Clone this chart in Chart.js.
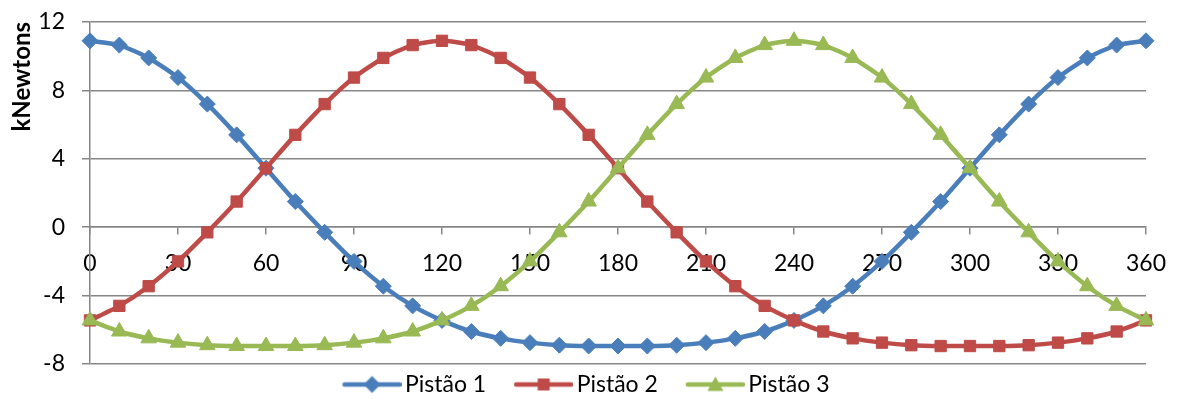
<!DOCTYPE html>
<html>
<head>
<meta charset="utf-8">
<script src="https://cdn.jsdelivr.net/npm/chart.js@4"></script>
<style>
html,body{margin:0;padding:0;background:#fff;}
#wrap{width:1182px;height:399px;}
</style>
</head>
<body>
<div id="wrap"><canvas id="c" width="1182" height="399"></canvas></div>
<script>
const angles = [0,10,20,30,40,50,60,70,80,90,100,110,120,130,140,150,160,170,180,190,200,210,220,230,240,250,260,270,280,290,300,310,320,330,340,350,360];
const pistao1 = [10.9,10.65,9.9,8.75,7.2,5.4,3.45,1.5,-0.3,-2.0,-3.45,-4.6,-5.45,-6.1,-6.5,-6.75,-6.9,-6.95,-6.95,-6.95,-6.9,-6.75,-6.5,-6.1,-5.45,-4.6,-3.45,-2.0,-0.3,1.5,3.45,5.4,7.2,8.75,9.9,10.65,10.9];
const pistao2 = [-5.45,-4.6,-3.45,-2.0,-0.3,1.5,3.45,5.4,7.2,8.75,9.9,10.65,10.9,10.65,9.9,8.75,7.2,5.4,3.45,1.5,-0.3,-2.0,-3.45,-4.6,-5.45,-6.1,-6.5,-6.75,-6.9,-6.95,-6.95,-6.95,-6.9,-6.75,-6.5,-6.1,-5.45];
const pistao3 = [-5.45,-6.1,-6.5,-6.75,-6.9,-6.95,-6.95,-6.95,-6.9,-6.75,-6.5,-6.1,-5.45,-4.6,-3.45,-2.0,-0.3,1.5,3.45,5.4,7.2,8.75,9.9,10.65,10.9,10.65,9.9,8.75,7.2,5.4,3.45,1.5,-0.3,-2.0,-3.45,-4.6,-5.45];
const seriesNames = ['Pistão 1','Pistão 2','Pistão 3'];
const yTicks = [-8,-4,0,4,8,12];
const xTicks = [0,30,60,90,120,150,180,210,240,270,300,330,360];

const colors = ['#4A7EBB','#BE4B48','#98B954'];
const styles = ['rectRot','rect','triangle'];
const radii = [8,8,9];
const FONT = 'Lato, "Liberation Sans", sans-serif';
const FS = 23;

function makeIcon(color, style){
  const c = document.createElement('canvas');
  c.width = 86; c.height = 20;
  const g = c.getContext('2d');
  g.strokeStyle = color; g.lineWidth = 4.5; g.lineCap = 'round';
  g.beginPath(); g.moveTo(29,10); g.lineTo(84,10); g.stroke();
  g.fillStyle = color;
  g.beginPath();
  const cx = 56.5, cy = 10;
  if (style === 'rectRot'){ g.moveTo(cx,cy-8.5); g.lineTo(cx+8.5,cy); g.lineTo(cx,cy+8.5); g.lineTo(cx-8.5,cy); }
  else if (style === 'rect'){ g.rect(cx-6,cy-6,12,12); }
  else { g.moveTo(cx,cy-8); g.lineTo(cx+8,cy+6.5); g.lineTo(cx-8,cy+6.5); }
  g.closePath(); g.fill();
  return c;
}
const icons = colors.map((c,i)=>makeIcon(c, styles[i]));

const seriesVals = [pistao1, pistao2, pistao3];
const datasets = seriesVals.map((vals, i) => ({
  label: seriesNames[i],
  data: angles.map((a, k) => ({x: a, y: vals[k]})),
  borderColor: colors[i],
  backgroundColor: colors[i],
  borderWidth: 4.5,
  pointStyle: styles[i],
  pointRadius: radii[i],
  pointHoverRadius: radii[i],
  pointBorderWidth: 1,
  pointBorderColor: colors[i],
  pointBackgroundColor: colors[i],
  tension: 0.2,
  order: 3 - i,
  clip: false
}));

new Chart(document.getElementById('c'), {
  type: 'line',
  data: { datasets },
  options: {
    responsive: false,
    animation: false,
    events: [],
    layout: { padding: { left: 0, right: 29, top: 22, bottom: 0 } },
    plugins: {
      tooltip: { enabled: false },
      legend: {
        position: 'bottom',
        maxHeight: 35,
        labels: {
          usePointStyle: true,
          pointStyleWidth: 70,
          padding: 9,
          color: '#000',
          font: { family: FONT, size: FS },
          generateLabels: (chart) => chart.data.datasets.map((ds, i) => ({
            text: ds.label, pointStyle: icons[i], datasetIndex: i,
            fillStyle: colors[i], strokeStyle: colors[i], lineWidth: 0, hidden: false, fontColor: '#000'
          }))
        }
      }
    },
    scales: {
      x: {
        type: 'linear',
        position: { y: 0 },
        min: 0, max: 360,
        afterBuildTicks: (s) => { s.ticks = xTicks.map(v => ({value: v})); },
        ticks: { color: '#000', font: { family: FONT, size: FS }, padding: 16, maxRotation: 0, autoSkip: false },
        grid: { drawOnChartArea: false, drawTicks: true, tickLength: 7, color: '#868686', lineWidth: 1.5 },
        border: { color: '#868686', width: 1.5 }
      },
      y: {
        type: 'linear',
        min: -8, max: 12,
        afterBuildTicks: (s) => { s.ticks = yTicks.map(v => ({value: v})); },
        afterFit: (s) => { s.width = 90; s.paddingTop = 0; s.paddingBottom = 0; },
        ticks: { color: '#000', font: { family: FONT, size: FS }, padding: 17 },
        grid: { color: '#868686', lineWidth: 1.5, tickLength: 8 },
        border: { color: '#868686', width: 1.5 },
        title: { display: true, text: 'kNewtons', align: 'end', color: '#000', font: { family: FONT, size: 24, weight: 'bold' }, padding: { top: 8, bottom: 0 } }
      }
    }
  }
});
</script>
</body>
</html>
